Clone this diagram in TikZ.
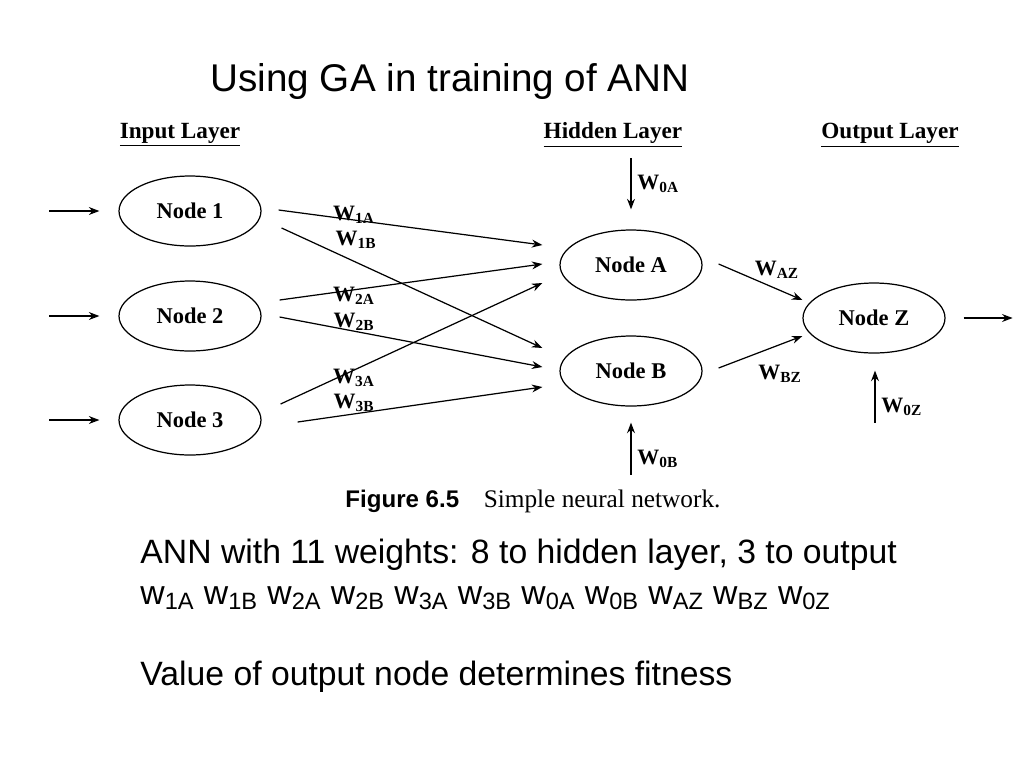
\documentclass[tikz,border=0pt]{standalone}
\usepackage{fontspec}
\setmainfont{Liberation Serif}
\newfontfamily\arial{Liberation Sans}
\usetikzlibrary{shapes.geometric,calc,arrows.meta}

\newcommand{\wt}[1]{W\textsubscript{#1}}
\newcommand{\ws}[1]{w\textsubscript{#1}}

\tikzset{
  neuron/.style={draw, ellipse, minimum width=2.84cm, minimum height=1.4cm,
    font=\fontsize{12.8}{14}\selectfont\bfseries},
  layer/.style={font=\fontsize{13.2}{15}\selectfont\bfseries},
  weight/.style={font=\fontsize{12.5}{14}\selectfont\bfseries},
  slide/.style={font=\arial\fontsize{19.2}{23}\selectfont, anchor=west},
}

\begin{document}
\begin{tikzpicture}[x=0.02cm, y=-0.02cm, auto, >={Stealth[length=6pt,width=4.5pt]}, line width=0.7pt]
        \useasboundingbox (0,0) rectangle (1024,768);

        \node[font=\arial\fontsize{22}{26}\selectfont] (title) at (450,82) {Using GA in training of ANN};

        % layer headings
        \node[layer] (inL) at (180,135) {\underline{Input Layer}};
        \node[layer] (hidL) at (613,135) {\underline{Hidden Layer}};
        \node[layer] (outL) at (890,135) {\underline{Output Layer}};

        % neurons
        \node[neuron] (n1) at (190,211) {Node 1};
        \node[neuron] (n2) at (190,316) {Node 2};
        \node[neuron] (n3) at (190,420) {Node 3};
        \node[neuron] (A) at (631,265) {Node A};
        \node[neuron] (B) at (631,371) {Node B};
        \node[neuron] (Z) at (874,318) {Node Z};

        % inputs and output
        \draw[->] ($(n1.west)+(-69,0)$) -- ($(n1.west)+(-19,0)$);
        \draw[->] ($(n2.west)+(-69,0)$) -- ($(n2.west)+(-19,0)$);
        \draw[->] ($(n3.west)+(-69,0)$) -- ($(n3.west)+(-19,0)$);
        \draw[->] ($(Z.east)+(18,0)$) -- ++(49,0);

        % input -> hidden
        \draw[->] ($(n1.east)+(17,-1)$) -- ($(A.west)+(-17,-20)$);
        \draw[->] ($(n1.east)+(20,17)$) -- ($(B.west)+(-17,-23)$);
        \draw[->] ($(n2.east)+(18,-16)$) -- ($(A.west)+(-17,-1)$);
        \draw[->] ($(n2.east)+(18,1)$) -- ($(B.west)+(-17,-4)$);
        \draw[->] ($(n3.east)+(19,-16)$) -- ($(A.west)+(-17,18)$);
        \draw[->] ($(n3.east)+(36,2)$) -- ($(B.west)+(-17,16)$);

        \node[weight] (w1A) at (354,215) {\wt{1A}};
        \node[weight] (w1B) at (356,240) {\wt{1B}};
        \node[weight] (w2A) at (354,296) {\wt{2A}};
        \node[weight] (w2B) at (354,322) {\wt{2B}};
        \node[weight] (w3A) at (354,378) {\wt{3A}};
        \node[weight] (w3B) at (354,403) {\wt{3B}};

        % hidden -> output
        \draw[->] ($(A.east)+(16,-1)$) -- ($(Z.west)+(0,-18)$);
        \draw[->] ($(B.east)+(16,-3)$) -- ($(Z.west)+(0,18)$);
        \node[weight] (wAZ) at (777,270) {\wt{AZ}};
        \node[weight] (wBZ) at (780,374) {\wt{BZ}};

        % bias weights
        \draw[<-] ($(A.north)+(0,-20)$) to node[weight,right]{\wt{0A}} ++(0,-51);
        \draw[->] ($(B.south)+(0,68)$) to node[weight,pos=0.3,right]{\wt{0B}} ($(B.south)+(0,16)$);
        \draw[->] ($(Z.south)+(1,69)$) to node[weight,pos=0.3,right]{\wt{0Z}} ($(Z.south)+(1,17)$);

        \node (cap) at (533,501) {{\arial\fontsize{13.7}{16}\selectfont\bfseries Figure 6.5}\hspace{14pt}{\fontsize{14.4}{17}\selectfont Simple neural network.}};

        \node[slide] (txt1) at (134,555) {ANN with 11 weights: 8 to hidden layer, 3 to output};
        \node[slide] (txt2) at (134,598) {\ws{1A} \ws{1B} \ws{2A} \ws{2B} \ws{3A} \ws{3B} \ws{0A} \ws{0B} \ws{AZ} \ws{BZ} \ws{0Z}};
        \node[slide] (txt3) at (134,677) {Value of output node determines fitness};
      \end{tikzpicture}
\end{document}
